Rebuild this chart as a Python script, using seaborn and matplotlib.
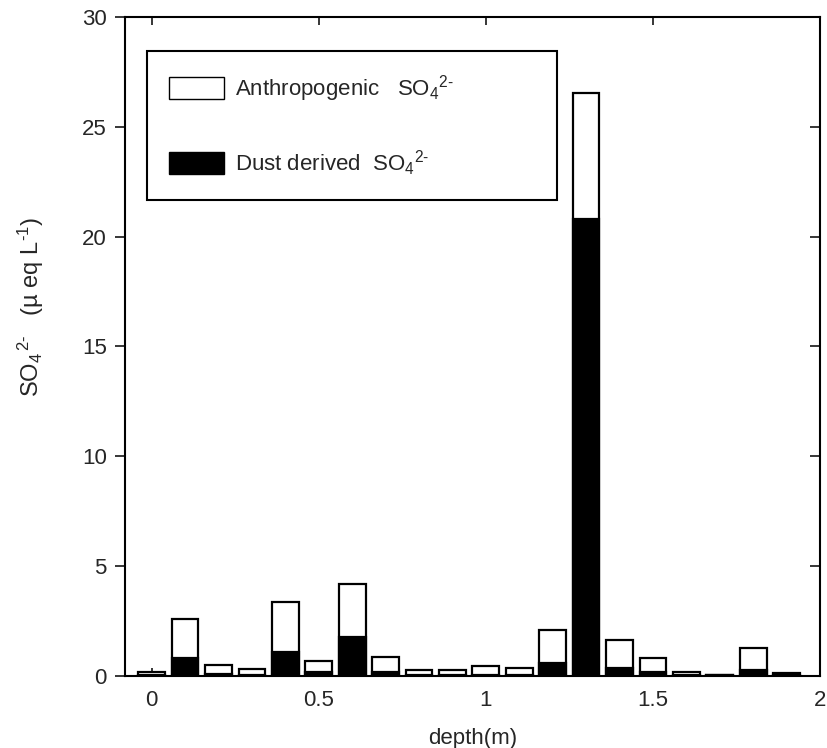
import matplotlib
matplotlib.use("Agg")
import matplotlib.pyplot as plt
from matplotlib.patches import Rectangle
import numpy as np
import pandas as pd
import seaborn as sns

# Sample depths (m) and sulfate fractions (µeq/L)
depth = [0.0, 0.1, 0.2, 0.3, 0.4, 0.5, 0.6, 0.7, 0.8, 0.9,
         1.0, 1.1, 1.2, 1.3, 1.4, 1.5, 1.6, 1.7, 1.8, 1.9]
total_so4 = [0.20, 2.60, 0.50, 0.30, 3.38, 0.70, 4.17, 0.88, 0.27, 0.27,
             0.47, 0.38, 2.09, 26.55, 1.64, 0.80, 0.17, 0.06, 1.26, 0.15]
dust_so4 = [0.05, 0.80, 0.10, 0.05, 1.08, 0.20, 1.76, 0.18, 0.05, 0.03,
            0.05, 0.05, 0.58, 20.80, 0.38, 0.20, 0.05, 0.04, 0.27, 0.03]

df = pd.DataFrame({"depth": depth, "total": total_so4, "dust": dust_so4})

sns.set_style("ticks")
plt.rcParams["font.family"] = ["Liberation Sans", "DejaVu Sans"]
plt.rcParams["mathtext.fontset"] = "custom"
plt.rcParams["mathtext.rm"] = "Liberation Sans"
plt.rcParams["mathtext.it"] = "Liberation Sans:italic"
plt.rcParams["mathtext.bf"] = "Liberation Sans:bold"

fig = plt.figure(figsize=(8.27, 7.48), dpi=100)
ax = fig.add_axes([0.1511, 0.0963, 0.8404, 0.8810])

lw = 1.6
# Total (anthropogenic on top of dust) drawn first as white bars
sns.barplot(data=df, x="depth", y="total", native_scale=True, width=0.8,
            color="white", edgecolor="black", linewidth=lw, ax=ax,
            errorbar=None, saturation=1)
# Dust-derived part drawn over the base of each bar
sns.barplot(data=df, x="depth", y="dust", native_scale=True, width=0.8,
            color="black", edgecolor="black", linewidth=lw, ax=ax,
            errorbar=None, saturation=1)

ax.set_xlim(-0.08, 2.0)
ax.set_ylim(0, 30)
ax.set_xticks([0, 0.5, 1, 1.5, 2])
ax.set_xticklabels(["0", "0.5", "1", "1.5", "2"])
ax.set_yticks([0, 5, 10, 15, 20, 25, 30])

for s in ax.spines.values():
    s.set_linewidth(1.5)
    s.set_color("black")

ax.tick_params(axis="y", which="major", left=True, right=False,
               direction="out", length=7, width=1.3, labelsize=16, pad=6)
ax.tick_params(axis="x", which="major", bottom=True, top=True,
               direction="in", length=6, width=1.3, labelsize=16, pad=10)

# Inward ticks along the right spine
sec = ax.secondary_yaxis("right")
sec.set_yticks([5, 10, 15, 20, 25])
sec.tick_params(direction="in", length=7, width=1.3, labelright=False)
sec.spines["right"].set_visible(False)

so4 = r"SO$_4$$^{2\text{-}}$"
ax.set_xlabel("depth(m)", fontsize=16, labelpad=12)
ax.set_ylabel(r"SO$_4$$^{\,2\text{-}}$" + r"   (µ eq L$^{\text{-}1}$)", fontsize=17)
ax.yaxis.set_label_coords(-0.113, 0.56)

handles = [Rectangle((0, 0), 1, 1, facecolor="white", edgecolor="black", linewidth=1.0),
           Rectangle((0, 0), 1, 1, facecolor="black", edgecolor="black", linewidth=1.0)]
labels = ["Anthropogenic   " + so4, "Dust derived  " + so4]
leg = ax.legend(handles, labels, loc="upper left",
                bbox_to_anchor=(0.0317, 0.722, 0.590, 0.227), mode="expand",
                borderaxespad=0, fontsize=16, frameon=True, fancybox=False,
                framealpha=1, edgecolor="black", handlelength=2.45,
                handleheight=1.15, handletextpad=0.5, labelspacing=2.0,
                borderpad=1.0)
leg.get_frame().set_linewidth(1.5)

fig.savefig("out.png", dpi=100)
